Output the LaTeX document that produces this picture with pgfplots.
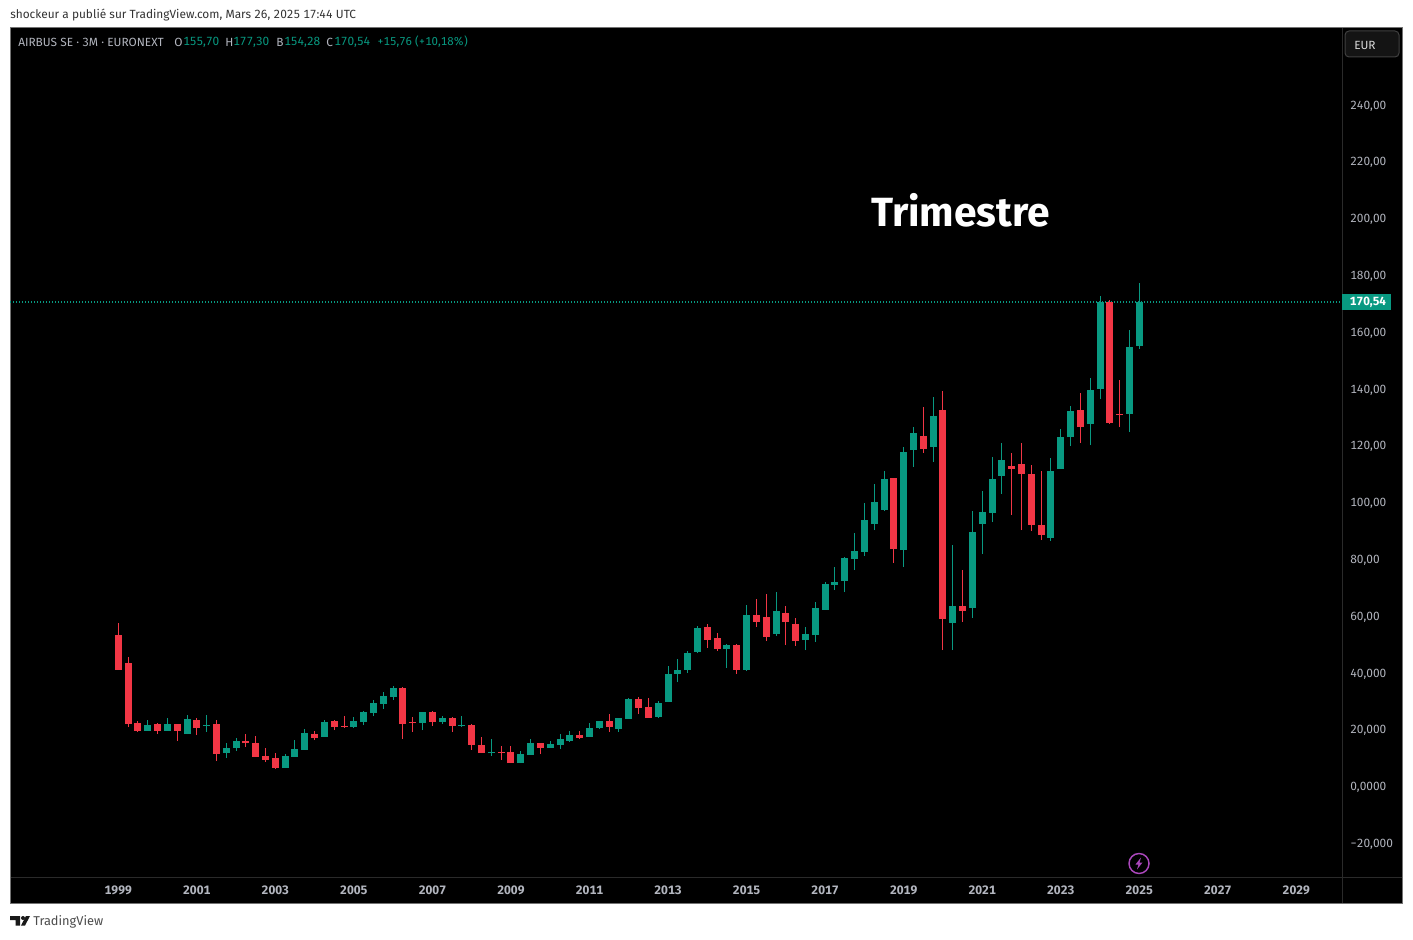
\documentclass[border=0pt]{standalone}
\usepackage{fontspec}
\setmainfont[Numbers=Monospaced]{Fira Sans}
\usepackage{pgfplots}
\usepackage{pgfplotstable}
\pgfplotsset{compat=1.18}
\definecolor{tvgreen}{HTML}{089981}
\definecolor{tvred}{HTML}{F23645}
\definecolor{tvgrey}{HTML}{B2B5BE}
\definecolor{tvline}{HTML}{2A2A2A}
\definecolor{tvpurple}{HTML}{AB47BC}
\pgfplotstableread{
i hi top bot lo
3 23.06 21.30 19.19 19.19
5 23.77 21.65 19.19 19.19
7 24.82 23.42 18.13 18.13
9 24.82 21.30 20.95 18.84
11 14.96 13.20 11.44 9.68
12 16.73 15.67 13.20 12.15
17 11.09 10.39 6.16 6.16
18 16.02 12.85 10.04 10.04
19 19.89 18.49 12.50 12.50
21 23.06 22.36 17.08 17.08
24 24.12 22.71 20.60 20.25
25 26.23 25.88 22.36 21.30
26 30.11 29.05 25.53 24.47
27 32.92 31.51 28.70 26.94
28 35.04 34.33 31.16 30.11
31 25.88 25.88 22.01 19.54
33 24.47 23.77 22.36 21.65
35 24.47 21.30 20.95 20.60
38 16.37 11.80 11.44 10.39
41 12.15 11.09 7.92 7.92
42 16.37 14.96 10.74 10.74
44 15.67 14.61 13.20 13.20
45 18.13 16.37 14.26 12.85
46 19.19 17.78 15.67 15.32
48 22.01 20.25 17.08 17.08
49 22.71 22.71 20.25 19.89
51 23.77 23.77 19.89 18.84
52 30.81 30.46 23.42 23.42
55 29.75 29.05 24.12 23.77
56 42.08 39.26 29.40 29.40
57 44.54 40.67 39.26 36.44
58 47.36 46.65 40.67 39.61
59 56.16 55.46 47.01 46.65
62 49.82 49.47 48.06 41.37
64 63.56 60.04 40.67 40.32
67 68.13 61.44 53.35 52.64
70 55.81 53.35 51.23 47.71
71 64.61 62.50 52.99 50.53
72 71.65 70.95 61.80 61.80
73 76.94 71.65 70.60 68.84
74 80.46 80.11 72.01 68.13
75 88.91 82.57 79.75 75.88
76 99.47 93.49 82.22 80.81
77 106.16 99.82 92.08 89.96
78 110.74 107.92 97.01 96.65
80 119.19 117.43 82.92 76.94
81 126.23 124.12 118.13 112.15
83 136.80 130.11 119.19 113.91
85 84.68 63.20 57.22 47.71
87 96.65 89.26 62.50 58.98
88 103.70 96.30 92.08 81.51
89 115.67 107.92 95.95 92.78
90 120.60 114.61 108.98 102.64
95 115.32 110.74 87.15 86.09
96 125.53 122.71 111.44 111.44
97 133.63 131.87 122.71 119.54
99 143.49 139.26 127.29 119.89
100 172.36 170.30 139.61 136.09
103 160.39 154.40 130.81 124.47
104 177.00 170.30 154.75 153.70
}\greencandles
\pgfplotstableread{
i hi top bot lo
0 57.22 52.99 40.67 40.67
1 45.25 43.13 21.65 20.60
2 22.71 22.01 19.19 18.84
4 22.01 21.65 19.19 18.13
6 21.65 21.65 19.19 15.67
8 23.77 23.06 20.25 17.78
10 23.06 21.65 11.09 8.63
13 18.13 15.67 14.96 13.56
14 17.43 14.96 10.04 10.04
15 13.20 10.39 8.98 8.27
16 11.44 9.68 6.16 5.81
20 19.19 18.13 16.73 16.02
22 23.06 22.71 20.60 19.54
23 24.47 20.95 20.60 20.25
29 34.68 34.33 21.65 16.37
30 24.12 22.36 22.01 18.84
32 26.23 25.88 22.36 20.95
34 24.12 23.77 20.95 18.84
36 21.65 21.30 14.26 12.50
37 17.08 14.26 11.44 11.44
39 13.91 11.80 11.44 8.98
40 13.91 11.80 7.92 7.92
43 14.96 14.96 13.20 11.09
47 19.19 17.78 16.73 16.37
50 25.18 22.71 20.60 18.84
53 31.16 30.46 27.29 25.18
54 30.81 27.64 23.77 23.77
60 56.87 55.81 51.23 48.42
61 53.70 51.94 48.06 47.36
63 49.82 49.47 40.67 39.26
65 65.67 60.04 57.57 55.81
66 67.43 59.33 52.29 50.88
68 63.20 60.74 57.57 49.47
69 58.98 56.87 50.88 49.12
79 108.27 108.27 83.27 78.35
82 133.27 123.06 118.49 117.08
84 138.91 132.22 58.63 47.71
86 75.88 63.20 61.44 57.57
91 117.08 112.50 111.44 95.25
92 120.60 113.20 109.68 89.96
93 112.85 109.68 91.73 89.61
94 110.74 91.73 88.20 86.44
98 138.20 132.22 126.23 120.60
101 170.95 170.25 127.64 127.29
102 142.78 130.81 130.46 126.23
}\redcandles
% draws one candle (wick, then body) per row of a table
\newcommand{\candles}[3]{%
\pgfplotsinvokeforeach{0,...,#3}{%
  \pgfplotstablegetelem{##1}{i}\of{#1}\let\ci\pgfplotsretval
  \pgfplotstablegetelem{##1}{hi}\of{#1}\let\chi\pgfplotsretval
  \pgfplotstablegetelem{##1}{top}\of{#1}\let\ctop\pgfplotsretval
  \pgfplotstablegetelem{##1}{bot}\of{#1}\let\cbot\pgfplotsretval
  \pgfplotstablegetelem{##1}{lo}\of{#1}\let\clo\pgfplotsretval
  \edef\temp{\noexpand\addplot[forget plot,#2,line width=0.75pt,no markers] coordinates {(\ci,\clo) (\ci,\chi)};
    \noexpand\addplot[forget plot,#2,line width=5.25pt,no markers] coordinates {(\ci,\cbot) (\ci,\ctop)};}%
  \temp
}}
\begin{document}
\begin{tikzpicture}
\begin{scope}[x=0.75pt,y=-0.75pt,yshift=704.25pt]
\fill[white] (0,0) rectangle (1413,939);
\fill[black] (10.5,27.5) rectangle (1402.5,903.5);
\draw[tvline,line width=0.75pt] (1342,27.5) -- (1342,903.5);
\draw[tvline,line width=0.75pt] (10.5,877) -- (1402.5,877);
\draw[color=black!55,line width=0.75pt] (10.5,27.5) rectangle (1402.5,903.5);
\end{scope}
\begin{axis}[
  at={(7.5pt,46.5pt)},anchor=south west,scale only axis,
  width=999pt,height=637.5pt,
  xmin=-11.03,xmax=124.65,ymin=-32.22,ymax=267.08,
  axis line style={draw=none},tick style={draw=none},
  major tick length=0pt,
  xtick={0,8,16,24,32,40,48,56,64,72,80,88,96,104,112,120},
  xticklabels={1999,2001,2003,2005,2007,2009,2011,2013,2015,2017,2019,2021,2023,2025,2027,2029},
  ytick={-20,0,20,40,60,80,100,120,140,160,180,200,220,240},
  yticklabels={{−20,000},{0,0000},{20,000},{40,000},{60,00},{80,00},{100,00},{120,00},{140,00},{160,00},{180,00},{200,00},{220,00},{240,00}},
  yticklabel pos=right,
  every y tick label/.append style={anchor=base west,inner sep=0pt,xshift=6pt,yshift=-3.9pt,font=\fontsize{8.9pt}{10pt}\selectfont,text=tvgrey},
  every x tick label/.append style={anchor=base,inner sep=0pt,yshift=-12.8pt,font=\fontsize{9.15pt}{10pt}\selectfont\bfseries,text=tvgrey},
]
\addplot[forget plot,tvgreen,line width=1pt,dash pattern=on 0.9pt off 1.35pt] coordinates {(-11.03,170.30) (124.65,170.30)};
\candles{\greencandles}{tvgreen}{59}
\candles{\redcandles}{tvred}{44}
\end{axis}
\begin{scope}[x=0.75pt,y=-0.75pt,yshift=704.25pt]
\tikzset{t/.style={anchor=west,inner sep=0pt,font=\fontsize{8.9pt}{10pt}\selectfont}}
\node[t,text=black!80] at (10,15) {shockeur a publié sur TradingView.com, Mars 26, 2025 17:44 UTC};
\node[t,text=tvgrey] at (18,42) {AIRBUS SE · 3M · EURONEXT};
\node[t,text=tvgrey] at (174,42) {O};
\node[t,text=tvgreen] at (183,42) {155,70};
\node[t,text=tvgrey] at (225,42) {H};
\node[t,text=tvgreen] at (233,42) {177,30};
\node[t,text=tvgrey] at (276,42) {B};
\node[t,text=tvgreen] at (284,42) {154,28};
\node[t,text=tvgrey] at (326,42) {C};
\node[t,text=tvgreen] at (334,42) {170,54};
\node[t,text=tvgreen,font=\fontsize{8.6pt}{10pt}\selectfont] at (377,42) {+15,76 (+10,18\%)};
\node[anchor=west,inner sep=0pt,text=white,font=\fontsize{30.6pt}{32pt}\selectfont\bfseries] at (871,210) {Trimestre};
\fill[tvgreen] (1342,294) rectangle (1391,310.5);
\node[anchor=center,inner sep=0pt,text=white,font=\fontsize{8.9pt}{10pt}\selectfont\bfseries] at (1368,302) {170,54};
\draw[fill=black!92,draw=black!75,line width=0.75pt,rounded corners=3pt] (1345,31) rectangle (1399,57);
\node[t,text=black!15] at (1354,45) {EUR};
\draw[color=tvpurple,line width=1.1pt] (1139,863.5) circle[radius=10];
\fill[color=tvpurple] (1141,857.5) -- (1135.5,864.5) -- (1138.5,864.5) -- (1137,869.5) -- (1142.5,862.5) -- (1139.5,862.5) -- cycle;
\fill[black!90] (10,916) rectangle (20,920) (15.5,916) rectangle (20,925.5);
\fill[black!90] (23,918) circle[radius=2];
\fill[black!90] (25,925.5) -- (21,925.5) -- (26,916) -- (30,916) -- cycle;
\node[anchor=west,inner sep=0pt,text=black!70,font=\fontsize{9.6pt}{10pt}\selectfont] at (33,921.5) {TradingView};
\end{scope}
\end{tikzpicture}
\end{document}
